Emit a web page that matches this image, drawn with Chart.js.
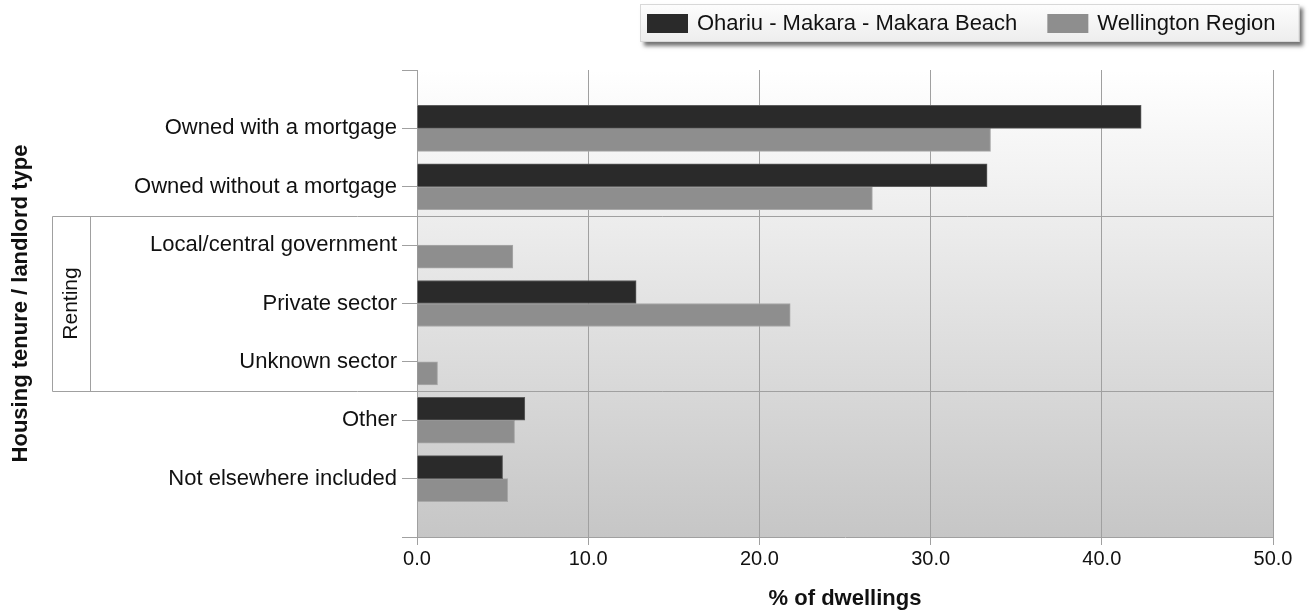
<!DOCTYPE html>
<html>
<head>
<meta charset="utf-8">
<script src="https://cdn.jsdelivr.net/npm/chart.js@4.4.1/dist/chart.umd.min.js"></script>
<style>
html, body { margin: 0; padding: 0; background: #fff; }
#wrap { width: 1313px; height: 614px; }
</style>
</head>
<body>
<div id="wrap"><canvas id="chart" width="1313" height="614"></canvas></div>
<script>
// --- data ---
const categories = [
    'Owned with a mortgage',
    'Owned without a mortgage',
    'Local/central government',
    'Private sector',
    'Unknown sector',
    'Other',
    'Not elsewhere included'
];
const seriesNames = ['Ohariu - Makara - Makara Beach', 'Wellington Region'];
const areaValues = [42.3, 33.3, 0, 12.8, 0, 6.3, 5.0];
const regionValues = [33.5, 26.6, 5.6, 21.8, 1.2, 5.7, 5.3];
const xTicks = [0, 10, 20, 30, 40, 50];
const rentingGroup = { label: 'Renting', first: 2, last: 4 };

const COLORS = {
    dark: '#2a2a2a',
    darkEdge: '#5c5c5c',
    gray: '#8e8e8e',
    grayEdge: '#a8a8a8',
    line: '#a0a0a0',
    text: '#111'
};
const FONT = '"Liberation Sans", Arial, sans-serif';
Chart.defaults.font.family = FONT;
Chart.defaults.color = COLORS.text;

// empty slots top and bottom so the categories sit like the original axis
const yLabels = ['', ...categories, ''];
const pad = arr => [null, ...arr, null];

// plot background gradient
const plotBackground = {
    id: 'plotBackground',
    beforeDraw(chart) {
        const { ctx, chartArea: a } = chart;
        const g = ctx.createLinearGradient(0, a.top, 0, a.bottom);
        g.addColorStop(0, '#ffffff');
        g.addColorStop(1, '#c6c6c6');
        ctx.save();
        ctx.fillStyle = g;
        ctx.fillRect(a.left, a.top, a.right - a.left, a.bottom - a.top);
        ctx.restore();
    }
};

// bracket box for the "Renting" group
const groupBox = {
    id: 'groupBox',
    beforeDatasetsDraw(chart) {
        const { ctx, chartArea: a } = chart;
        const y = chart.scales.y;
        const pix = i => y.getPixelForTick(i + 1);
        const top = (pix(rentingGroup.first - 1) + pix(rentingGroup.first)) / 2;
        const bottom = (pix(rentingGroup.last) + pix(rentingGroup.last + 1)) / 2;
        const outer = 52.5, inner = 90.5;
        ctx.save();
        ctx.strokeStyle = COLORS.line;
        ctx.lineWidth = 1;
        ctx.beginPath();
        ctx.moveTo(outer, Math.round(top) + 0.5);
        ctx.lineTo(a.right, Math.round(top) + 0.5);
        ctx.moveTo(outer, Math.round(bottom) + 0.5);
        ctx.lineTo(a.right, Math.round(bottom) + 0.5);
        ctx.moveTo(outer, Math.round(top) + 0.5);
        ctx.lineTo(outer, Math.round(bottom) + 0.5);
        ctx.moveTo(inner, Math.round(top) + 0.5);
        ctx.lineTo(inner, Math.round(bottom) + 0.5);
        ctx.stroke();
        ctx.translate((outer + inner) / 2, (top + bottom) / 2);
        ctx.rotate(-Math.PI / 2);
        ctx.fillStyle = COLORS.text;
        ctx.font = '21px ' + FONT;
        ctx.textAlign = 'center';
        ctx.textBaseline = 'middle';
        ctx.fillText(rentingGroup.label, 0, 0);
        ctx.restore();
    }
};

// legend in a shadowed box, top right
const boxLegend = {
    id: 'boxLegend',
    afterDraw(chart) {
        const ctx = chart.ctx;
        const sets = chart.data.datasets;
        ctx.save();
        ctx.font = '22px ' + FONT;
        const sw = 41, sh = 19, gap = 9, between = 30;
        const widths = sets.map(d => ctx.measureText(d.label).width);
        const total = widths.reduce((s, w, i) => s + sw + gap + w + (i ? between : 0), 0);
        const left = 640, top = 4, bottom = 42;
        const right = 647 + total + 24;

        ctx.save();
        ctx.shadowColor = 'rgba(0,0,0,0.55)';
        ctx.shadowBlur = 4;
        ctx.shadowOffsetX = 4;
        ctx.shadowOffsetY = 4;
        const g = ctx.createLinearGradient(0, top, 0, bottom);
        g.addColorStop(0, '#fdfdfd');
        g.addColorStop(1, '#ededed');
        ctx.fillStyle = g;
        ctx.fillRect(left, top, right - left, bottom - top);
        ctx.restore();
        ctx.strokeStyle = '#d8d8d8';
        ctx.strokeRect(left + 0.5, top + 0.5, right - left - 1, bottom - top - 1);

        let x = 647;
        const cy = (top + bottom) / 2 + 0.5;
        sets.forEach((d, i) => {
            ctx.fillStyle = d.backgroundColor;
            ctx.fillRect(x, cy - sh / 2, sw, sh);
            ctx.fillStyle = COLORS.text;
            ctx.textBaseline = 'middle';
            ctx.textAlign = 'left';
            ctx.fillText(d.label, x + sw + gap, cy);
            x += sw + gap + widths[i] + between;
        });
        ctx.restore();
    }
};

new Chart(document.getElementById('chart'), {
    type: 'bar',
    data: {
        labels: yLabels,
        datasets: [
            {
                label: seriesNames[0],
                data: pad(areaValues),
                backgroundColor: COLORS.dark,
                borderColor: COLORS.darkEdge,
                borderWidth: 1,
                barThickness: 23
            },
            {
                label: seriesNames[1],
                data: pad(regionValues),
                backgroundColor: COLORS.gray,
                borderColor: COLORS.grayEdge,
                borderWidth: 1,
                barThickness: 23
            }
        ]
    },
    options: {
        indexAxis: 'y',
        responsive: false,
        animation: false,
        devicePixelRatio: 1,
        layout: { padding: { top: 70, right: 40, bottom: 0, left: 0 } },
        plugins: {
            legend: { display: false },
            tooltip: { enabled: false }
        },
        scales: {
            x: {
                type: 'linear',
                min: xTicks[0],
                max: xTicks[xTicks.length - 1],
                afterBuildTicks: s => { s.ticks = xTicks.map(v => ({ value: v })); },
                grid: { color: COLORS.line, tickLength: 8 },
                border: { color: COLORS.line },
                ticks: {
                    padding: 2,
                    font: { size: 20 },
                    color: COLORS.text,
                    callback: v => Number(v).toFixed(1)
                },
                title: {
                    display: true,
                    text: '% of dwellings',
                    font: { size: 22, weight: 'bold' },
                    color: COLORS.text,
                    padding: { top: 14, bottom: 2 }
                },
                afterFit: s => { s.height = 77; }
            },
            y: {
                type: 'category',
                offset: false,
                grid: { offset: false, drawOnChartArea: false, drawTicks: true, tickLength: 15, color: COLORS.line },
                border: { color: COLORS.line },
                ticks: { autoSkip: false, padding: 5, font: { size: 22 }, color: COLORS.text },
                title: {
                    display: true,
                    text: 'Housing tenure / landlord type',
                    font: { size: 22, weight: 'bold' },
                    color: COLORS.text,
                    padding: { top: 8, bottom: 0 }
                },
                afterFit: s => { s.width = 417; }
            }
        }
    },
    plugins: [plotBackground, groupBox, boxLegend]
});
</script>
</body>
</html>
